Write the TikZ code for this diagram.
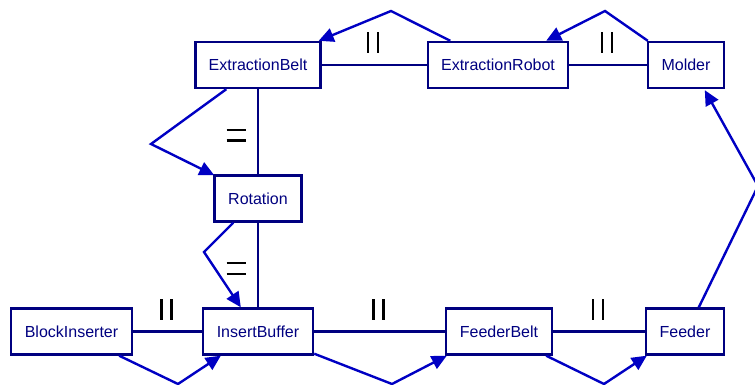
\documentclass[tikz,border=0pt]{standalone}
\usepackage{fontspec}
\setmainfont{Liberation Sans}
\usetikzlibrary{calc,arrows.meta}
\definecolor{boxnavy}{RGB}{0,0,128}
\definecolor{flowblue}{RGB}{0,0,195}
\tikzset{
  block/.style={draw=boxnavy, line width=2.4pt, fill=white, text=boxnavy,
    minimum height=46pt, inner sep=0pt,
    font=\fontsize{16}{19}\selectfont},
  conn/.style={draw=boxnavy, line width=2.4pt},
  flow/.style={draw=flowblue, line width=2.4pt, line join=miter,
    -{Triangle[length=15pt,width=14pt]}, fill=none},
  barline/.style={draw=black, line width=2.4pt},
  parh/.pic={\draw[barline] (-5,-10.5) -- (-5,10.5) (5,-10.5) -- (5,10.5);},
  parv/.pic={\draw[barline] (-9.5,-5.3) -- (9.5,-5.3) (-9.5,5.3) -- (9.5,5.3);}
}
\begin{document}
\begin{tikzpicture}[x=1pt,y=-1pt]
\useasboundingbox (0,0) rectangle (755,385);
\clip (0,0) rectangle (755,385);

% boxes
\node[block, minimum width=125pt] (eb) at (258,65) {ExtractionBelt};
\node[block, minimum width=140pt] (er) at (498,65) {ExtractionRobot};
\node[block, minimum width=76pt]  (mo) at (686,65) {Molder};
\node[block, minimum width=87pt]  (ro) at (258,198.5) {Rotation};
\node[block, minimum width=121pt] (bi) at (71.5,331.5) {BlockInserter};
\node[block, minimum width=110pt] (ib) at (258,331.5) {InsertBuffer};
\node[block, minimum width=106pt] (fb) at (499,331.5) {FeederBelt};
\node[block, minimum width=78pt]  (fe) at (685,331.5) {Feeder};

% plain links between boxes
\draw[conn] (eb) -- (er);
\draw[conn] (er) -- (mo);
\draw[conn] (eb) -- (ro);
\draw[conn] (ro) -- (ib);
\draw[conn] (bi) -- (ib);
\draw[conn] (ib) -- (fb);
\draw[conn] (fb) -- (fe);

% parallel marks on the links
\pic at ($(eb.east)!0.5!(er.west)+(-1,-22)$) {parh};
\pic at ($(er.east)!0.5!(mo.west)+(-1,-22)$) {parh};
\pic at ($(bi.east)!0.5!(ib.west)+(-1,-22)$) {parh};
\pic at ($(ib.east)!0.5!(fb.west)+(-1,-22)$) {parh};
\pic at ($(fb.east)!0.5!(fe.west)+(-1,-22)$) {parh};
\pic at ($(eb.south)!0.5!(ro.north)+(-22,3.5)$) {parv};
\pic at ($(ro.south)!0.5!(ib.north)+(-22,3.5)$) {parv};

% bend points of the flow arrows
\coordinate (k1) at (391,11);
\coordinate (k2) at (605,11);
\coordinate (k3) at (151,144);
\coordinate (k4) at (204,252);
\coordinate (k5) at (178,384);
\coordinate (k6) at (392,384);
\coordinate (k7) at (604,384);
\coordinate (k8) at (758,186);

% flow arrows
\draw[flow] ($(er.north west)+(23.5,0)$) -- (k1) -- ($(eb.north east)+(-3,0)$);
\draw[flow] ($(mo.north west)+(1,0)$) -- (k2) -- ($(er.north east)+(-23,0)$);
\draw[flow] ($(eb.south west)+(32,0)$) -- (k3) -- ($(ro.north west)+(1,1)$);
\draw[flow] ($(ro.south west)+(20,0)$) -- (k4) -- ($(ib.north west)+(39,0)$);
\draw[flow] ($(bi.south east)+(-14,0)$) -- (k5) -- ($(ib.south west)+(19,0)$);
\draw[flow] ($(ib.south east)+(0,-2)$) -- (k6) -- ($(fb.south west)+(2,0)$);
\draw[flow] ($(fb.south east)+(-7,0)$) -- (k7) -- ($(fe.south west)+(2,0)$);
\draw[flow] ($(fe.north west)+(54,0)$) -- (k8) -- ($(mo.south west)+(58,1)$);
\end{tikzpicture}
\end{document}
